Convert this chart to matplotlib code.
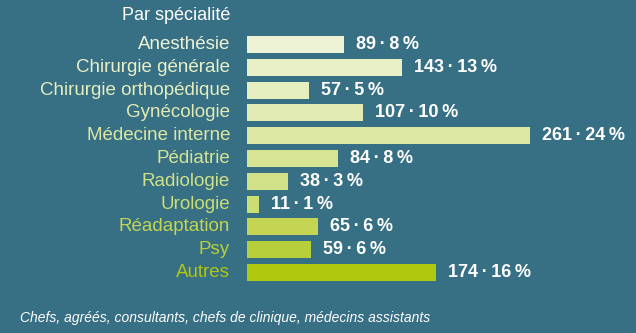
import matplotlib
matplotlib.use("Agg")
import matplotlib.pyplot as plt

specialites = ["Anesthésie", "Chirurgie générale", "Chirurgie orthopédique",
               "Gynécologie", "Médecine interne", "Pédiatrie", "Radiologie",
               "Urologie", "Réadaptation", "Psy", "Autres"]
effectifs = [89, 143, 57, 107, 261, 84, 38, 11, 65, 59, 174]
pourcents = [8, 13, 5, 10, 24, 8, 3, 1, 6, 6, 16]
couleurs = ["#eef3d5", "#e9f0c8", "#e5eebe", "#e1ebb3", "#dbe7a3", "#d6e494",
            "#d1e187", "#cade74", "#c3d553", "#b7cf3a", "#aec90e"]

BG = "#376f84"
SCALE = 1.085        # px per unit
X0 = 247             # px where bars start
ROW0, ROW_STEP = 44.5, 22.8

fig = plt.figure(figsize=(6.36, 3.33), dpi=100)
fig.patch.set_facecolor(BG)
ax = fig.add_axes([0, 0, 1, 1])
ax.set_facecolor(BG)
ax.set_xlim(-X0 / SCALE, (636 - X0) / SCALE)
ax.set_ylim((333 - ROW0) / ROW_STEP, -ROW0 / ROW_STEP)
ax.axis("off")

font = "Liberation Sans"
rows = range(len(specialites))
ax.barh(rows, effectifs, height=17 / ROW_STEP, color=couleurs, linewidth=0)

for i, (nom, n, p, c) in enumerate(zip(specialites, effectifs, pourcents, couleurs)):
    ax.text(-17 / SCALE, i, nom, ha="right", va="center", color=c,
            fontsize=13.5, family=font)
    ax.text(n + 12 / SCALE, i, f"{n}\u2009·\u2009{p}\u2009%", ha="left", va="center",
            color="white", fontsize=13, family=font, fontweight="bold")

fig.text(230 / 636, 1 - 15 / 333, "Par spécialité", ha="right", va="center",
         color="white", fontsize=13, family=font)
fig.text(20 / 636, 1 - 318 / 333,
         "Chefs, agréés, consultants, chefs de clinique, médecins assistants",
         ha="left", va="center", color="white", fontsize=10, family=font,
         style="italic")

fig.savefig("out.png", dpi=100, facecolor=BG)
